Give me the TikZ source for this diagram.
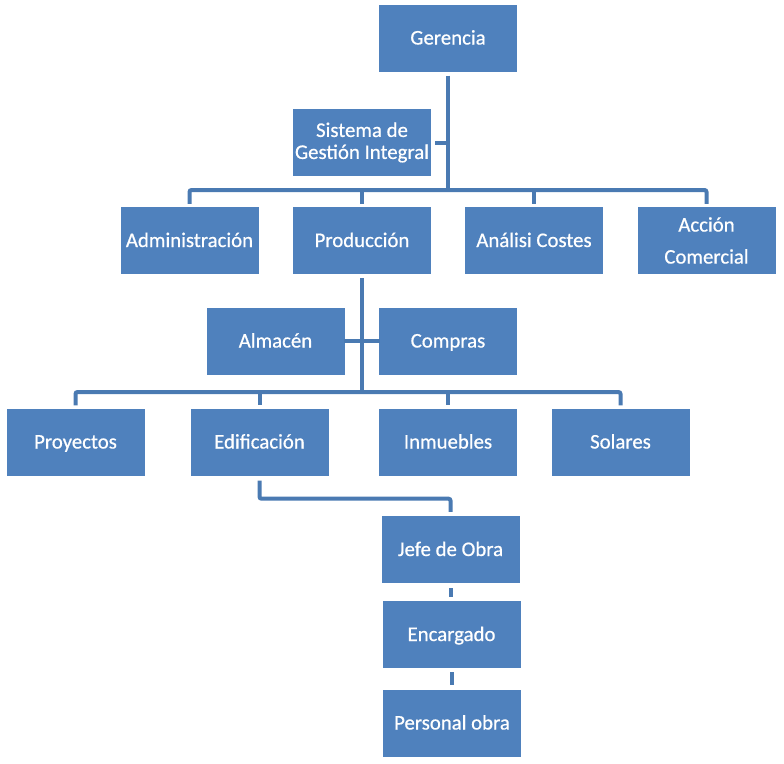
\documentclass[tikz,border=0pt]{standalone}
\usepackage{fontspec}
\setmainfont{Carlito}
\newfontfamily\boxfont{Carlito}[FakeBold=0.6]
\definecolor{boxblue}{HTML}{4F81BD}
\definecolor{lineblue}{HTML}{4A7AB2}
\begin{document}
\begin{tikzpicture}[x=1pt,y=-1pt,
  orgbox/.style={draw=none,fill=boxblue,text=white,minimum width=138pt,minimum height=67pt,
    inner sep=0pt,align=center,font=\boxfont\fontsize{20.8}{22}\selectfont},
  onebox/.style={orgbox,text height=13pt,text depth=0pt},
  conn/.style={draw=lineblue,line width=4pt},
  elbow/.style={conn,rounded corners=2pt}]
\useasboundingbox (0,0) rectangle (784,763);
% boxes
\node[onebox] (ger) at (448,38) {Gerencia};
\node[orgbox] (sis) at (362,142.5) {Sistema de\\Gestión Integral};
\node[onebox] (adm) at (189.5,240.5) {Administración};
\node[onebox] (pro) at (362,240.5) {Producción};
\node[onebox] (ana) at (534,240.5) {Análisi Costes};
\node[orgbox,font=\boxfont\fontsize{20.8}{32}\selectfont] (acc) at (706.5,240.5) {Acción\\Comercial};
\node[onebox] (alm) at (275.5,341) {Almacén};
\node[onebox] (com) at (448,341) {Compras};
\node[onebox] (pry) at (75.5,442) {Proyectos};
\node[onebox] (edi) at (259.5,442) {Edificación};
\node[onebox] (inm) at (448,442) {Inmuebles};
\node[onebox] (sol) at (620.5,442) {Solares};
\node[onebox] (jef) at (450.5,549.5) {Jefe de Obra};
\node[onebox] (enc) at (451.5,634.5) {Encargado};
\node[onebox] (per) at (452,723) {Personal obra};
% bus coordinates
\coordinate (b1) at (448,190);
\coordinate (b2) at (362,392);
% level 1
\draw[conn] ([yshift=-4pt]ger.south) -- (b1);
\draw[conn] ([xshift=4pt]sis.east) -- (sis.east -| b1);
\draw[elbow] ([yshift=3pt]adm.north) -- (adm.north |- b1) -- (acc.north |- b1) -- ([yshift=3pt]acc.north);
\foreach \n in {pro,ana}
  \draw[conn] (\n.north |- b1) -- ([yshift=3pt]\n.north);
% level 2
\draw[conn] ([yshift=-4pt]pro.south) -- (b2);
\draw[conn] ([xshift=-1pt]alm.east) -- ([xshift=1pt]com.west);
\draw[elbow] ([yshift=3pt]pry.north) -- (pry.north |- b2) -- (sol.north |- b2) -- ([yshift=3pt]sol.north);
\foreach \n in {edi,inm}
  \draw[conn] (\n.north |- b2) -- ([yshift=3pt]\n.north);
% level 3
\draw[elbow] ([yshift=-5pt]edi.south) -- ++(0,18) -| ([yshift=4pt]jef.north);
\coordinate (j1) at ([yshift=-5pt]jef.south);
\coordinate (e1) at ([yshift=-4pt]enc.south);
\draw[conn] (j1) -- (j1 |- 0,597);
\draw[conn] (e1) -- (e1 |- 0,685);
\end{tikzpicture}
\end{document}
